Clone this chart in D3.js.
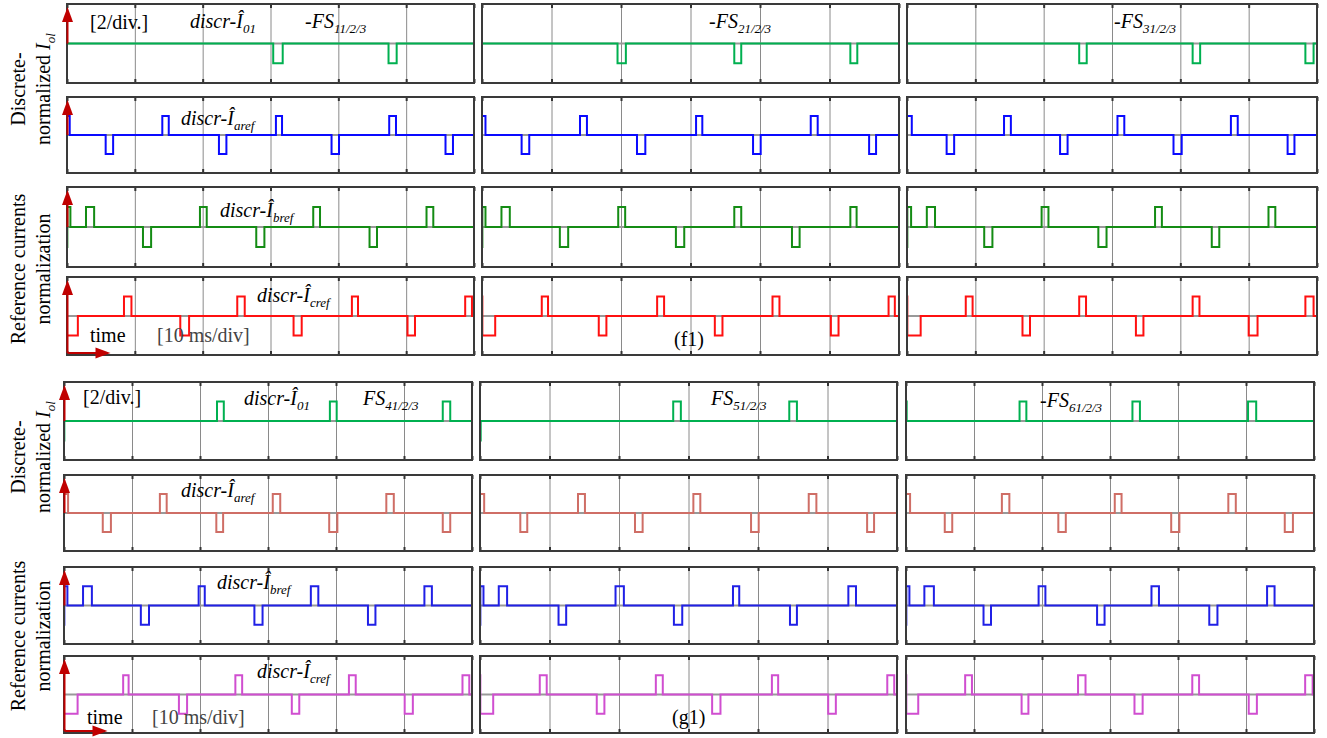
<!DOCTYPE html>
<html>
<head>
<meta charset="utf-8">
<script src="https://cdnjs.cloudflare.com/ajax/libs/d3/7.8.5/d3.min.js"></script>
<style>
body { margin: 0; background: #fff; }
text { font-family: "Liberation Serif", "Times New Roman", serif; }
</style>
</head>
<body>
<div id="chart"></div>
<script>
const ancho = 1327
const alto = 738

// eje de tiempo: 6 div de 10 ms por panel
const tiempo = [0, 60]
const divisiones = [0, 10, 20, 30, 40, 50, 60]
const nivel = [-2, 2]

// pulsos [inicio ms, fin ms, nivel] por columna
const f1I01 = [
    [[30.4, 31.8, -1], [47.4, 48.6, -1]],
    [[19.5, 20.7, -1], [36.3, 37.3, -1], [53.0, 54.0, -1]],
    [[25.2, 26.3, -1], [41.8, 42.9, -1], [58.3, 59.5, -1]]
]
const f1Iaref = [
    [[0, 0.4, 1], [5.7, 6.8, -1], [14.05, 15.0, 1], [22.4, 23.5, -1], [30.8, 31.7, 1], [39.0, 40.1, -1], [47.5, 48.5, 1], [55.8, 56.9, -1]],
    [[0, 0.5, 1], [5.7, 6.8, -1], [14.1, 15.1, 1], [22.3, 23.5, -1], [30.8, 31.7, 1], [39.0, 40.1, -1], [47.3, 48.3, 1], [55.7, 56.7, -1]],
    [[0, 0.7, 1], [5.8, 6.9, -1], [14.2, 15.2, 1], [22.4, 23.5, -1], [30.8, 31.8, 1], [39.0, 40.2, -1], [47.4, 48.4, 1], [55.7, 56.7, -1]]
]
const f1Ibref = [
    [[0, 0.05, -1], [0.05, 0.5, 1], [2.8, 4.0, 1], [11.2, 12.4, -1], [19.6, 20.6, 1], [27.9, 29.1, -1], [36.3, 37.3, 1], [44.6, 45.7, -1], [53.0, 54.0, 1]],
    [[0, 0.05, -1], [0.05, 0.5, 1], [2.8, 4.0, 1], [11.2, 12.4, -1], [19.6, 20.6, 1], [27.9, 29.1, -1], [36.3, 37.3, 1], [44.6, 45.7, -1], [53.0, 53.9, 1]],
    [[0, 0.05, -1], [0.05, 0.6, 1], [2.9, 4.1, 1], [11.3, 12.5, -1], [19.7, 20.7, 1], [28.0, 29.2, -1], [36.3, 37.3, 1], [44.6, 45.7, -1], [52.9, 53.9, 1]]
]
const f1Icref = [
    [[0, 1.6, -1], [8.4, 9.5, 1], [16.7, 18.0, -1], [25.1, 26.2, 1], [33.4, 34.6, -1], [42.0, 42.9, 1], [50.2, 51.3, -1], [58.7, 59.7, 1]],
    [[0, 0.05, 1], [0.05, 1.9, -1], [8.6, 9.5, 1], [16.8, 17.9, -1], [25.2, 26.2, 1], [33.5, 34.6, -1], [41.8, 42.8, 1], [50.2, 51.3, -1], [58.5, 59.4, 1]],
    [[0, 0.05, 1], [0.05, 2.0, -1], [8.6, 9.6, 1], [16.9, 18.0, -1], [25.2, 26.2, 1], [33.5, 34.6, -1], [41.8, 42.8, 1], [50.0, 51.3, -1], [58.3, 59.5, 1]]
]
const g1I01 = [
    [[0, 0.05, -1], [22.5, 23.5, 1], [39.1, 40.1, 1], [55.7, 56.8, 1]],
    [[0, 0.1, -1], [27.8, 28.9, 1], [44.5, 45.6, 1]],
    [[0, 0.1, 1], [16.7, 17.7, 1], [33.3, 34.4, 1], [50.3, 51.5, 1]]
]
const g1Iaref = [
    [[0, 0.6, 1], [5.7, 6.9, -1], [14.1, 15.1, 1], [22.4, 23.4, -1], [30.7, 31.8, 1], [39.0, 40.2, -1], [47.4, 48.5, 1], [55.7, 56.8, -1]],
    [[0, 0.6, 1], [5.8, 6.8, -1], [14.1, 15.1, 1], [22.3, 23.4, -1], [30.7, 31.7, 1], [39.0, 40.1, -1], [47.3, 48.4, 1], [55.7, 56.7, -1]],
    [[0, 0.6, 1], [5.7, 6.8, -1], [14.1, 15.2, 1], [22.4, 23.5, -1], [30.7, 31.7, 1], [39.0, 40.2, -1], [47.4, 48.5, 1], [55.7, 56.9, -1]]
]
const g1Ibref = [
    [[0, 0.05, -1], [0.05, 0.5, 1], [2.8, 4.1, 1], [11.3, 12.5, -1], [19.8, 20.7, 1], [28.0, 29.2, -1], [36.3, 37.4, 1], [44.7, 45.8, -1], [53.0, 54.1, 1]],
    [[0, 0.05, -1], [0.05, 0.5, 1], [2.7, 3.9, 1], [11.3, 12.4, -1], [19.5, 20.7, 1], [27.9, 29.1, -1], [36.4, 37.3, 1], [44.6, 45.6, -1], [53.0, 54.1, 1]],
    [[0, 0.05, -1], [0.05, 0.5, 1], [2.7, 4.1, 1], [11.4, 12.5, -1], [19.5, 20.5, 1], [28.1, 29.2, -1], [36.1, 37.2, 1], [44.6, 45.8, -1], [53.1, 54.2, 1]]
]
const g1Icref = [
    [[0, 2.0, -1], [8.7, 9.5, 1], [16.9, 18.1, -1], [25.2, 26.2, 1], [33.5, 34.6, -1], [41.9, 42.9, 1], [50.1, 51.3, -1], [58.6, 59.6, 1]],
    [[0, 0.05, 1], [0.05, 1.9, -1], [8.6, 9.6, 1], [16.8, 17.9, -1], [25.3, 26.3, 1], [33.4, 34.6, -1], [42.0, 42.9, 1], [50.1, 51.2, -1], [58.6, 59.6, 1]],
    [[0, 0.05, 1], [0.05, 1.8, -1], [8.7, 9.7, 1], [17.0, 18.0, -1], [25.3, 26.4, 1], [33.6, 34.8, -1], [42.1, 43.1, 1], [50.4, 51.6, -1], [58.7, 59.8, 1]]
]

// textos
const subSenal = ["01", "aref", "bref", "cref"]
const fsF1 = [["-FS", "11/2/3"], ["-FS", "21/2/3"], ["-FS", "31/2/3"]]
const fsG1 = [["FS", "41/2/3"], ["FS", "51/2/3"], ["-FS", "61/2/3"]]
const nombresGrupo = ["(f1)", "(g1)"]

const rojo = "#c00000"

const grupos = [
    {
        nombre: nombresGrupo[0],
        senales: [f1I01, f1Iaref, f1Ibref, f1Icref],
        colores: ["#00b050", "#0a0aff", "#148c14", "#ff1010"],
        cols: [[67, 474], [482, 899], [907, 1317]],
        filas: [[4, 83], [97, 173], [187, 267], [277, 355]],
        fs: fsF1,
        fsPos: [[305, 28], [709, 28], [1114, 28]],
        divPos: [90, 29],
        senPos: [[190, 28], [181, 125], [220, 217], [257, 302]],
        timePos: [90, 342], msPos: [157, 342], nomPos: [674, 346],
        lab1: 89, lab2: 269
    },
    {
        nombre: nombresGrupo[1],
        senales: [g1I01, g1Iaref, g1Ibref, g1Icref],
        colores: ["#00b050", "#cf6e66", "#2020e6", "#d04ed0"],
        cols: [[64, 472], [480, 897], [906, 1314]],
        filas: [[382, 460], [475, 551], [567, 644], [656, 733]],
        fs: fsG1,
        fsPos: [[363, 405], [711, 405], [1040, 407]],
        divPos: [83, 404],
        senPos: [[244, 405], [181, 497], [217, 589], [257, 678]],
        timePos: [87, 724], msPos: [152, 724], nomPos: [672, 724],
        lab1: 457, lab2: 636
    }
]

const svg = d3.select("#chart").append("svg")
    .attr("width", ancho)
    .attr("height", alto)

function panel(g, xr, yr, pulsos, color) {
    const x = d3.scaleLinear().domain(tiempo).range(xr)
    const y = d3.scaleLinear().domain(nivel).range([yr[1], yr[0]])
    const alt = yr[1] - yr[0]

    // rejilla vertical
    g.append("g").attr("transform", `translate(0,${yr[1]})`)
        .call(d3.axisBottom(x).tickValues(divisiones.slice(1, -1)).tickSize(-alt).tickFormat(""))
        .call(s => s.select(".domain").remove())
        .selectAll("line").attr("stroke", "#8a8a8a").attr("stroke-width", 1)
    // marcas arriba y abajo
    g.append("g").attr("transform", `translate(0,${yr[1]})`)
        .call(d3.axisBottom(x).tickValues(divisiones).tickSize(-4).tickFormat(""))
        .call(s => s.select(".domain").remove())
        .selectAll("line").attr("stroke", "#333").attr("stroke-width", 2)
    g.append("g").attr("transform", `translate(0,${yr[0]})`)
        .call(d3.axisTop(x).tickValues(divisiones).tickSize(-4).tickFormat(""))
        .call(s => s.select(".domain").remove())
        .selectAll("line").attr("stroke", "#333").attr("stroke-width", 2)
    // linea de cero
    g.append("line")
        .attr("x1", x(tiempo[0])).attr("x2", x(tiempo[1]))
        .attr("y1", y(0)).attr("y2", y(0))
        .attr("stroke", "#999").attr("stroke-width", 2)

    const pts = [[tiempo[0], 0]]
    pulsos.forEach(([s, e, l]) => { pts.push([s, 0], [s, l], [e, l], [e, 0]) })
    pts.push([tiempo[1], 0])
    g.append("path")
        .attr("d", d3.line().x(d => x(d[0])).y(d => y(d[1]))(pts))
        .attr("fill", "none")
        .attr("stroke", color)
        .attr("stroke-width", 2)

    g.append("rect")
        .attr("x", xr[0]).attr("y", yr[0])
        .attr("width", xr[1] - xr[0]).attr("height", alt)
        .attr("fill", "none").attr("stroke", "#3a3a3a").attr("stroke-width", 2)
    return y
}

function etiqueta(g, pos, base, sub, italica, size) {
    const t = g.append("text").attr("x", pos[0]).attr("y", pos[1])
        .attr("font-size", size || 20)
        .attr("font-style", italica ? "italic" : "normal")
    t.append("tspan").text(base)
    if (sub) t.append("tspan").text(sub).attr("font-size", 13).attr("dy", 5)
    return t
}

function flechaArriba(g, x, yDesde, yPunta) {
    g.append("line").attr("x1", x).attr("x2", x).attr("y1", yDesde).attr("y2", yPunta + 12)
        .attr("stroke", rojo).attr("stroke-width", 2)
    g.append("path").attr("d", `M${x - 5.5},${yPunta + 15}L${x + 5.5},${yPunta + 15}L${x},${yPunta}Z`)
        .attr("fill", rojo)
}

grupos.forEach(gr => {
    const grupo = svg.append("g")
    gr.senales.forEach((senal, fi) => {
        senal.forEach((pulsos, ci) => {
            const y = panel(grupo, gr.cols[ci], gr.filas[fi], pulsos, gr.colores[fi])
            if (ci === 0) {
                const xa = gr.cols[0][0] + 0.5
                const tip = gr.filas[fi][0] + 3
                if (fi < 3) {
                    flechaArriba(grupo, xa, y(0), tip)
                } else {
                    const yb = gr.filas[fi][1] - 2
                    flechaArriba(grupo, xa, yb, tip)
                    const xt = xa + 43
                    grupo.append("line").attr("x1", xa).attr("x2", xt - 12).attr("y1", yb).attr("y2", yb)
                        .attr("stroke", rojo).attr("stroke-width", 2)
                    grupo.append("path").attr("d", `M${xt - 15},${yb - 5.5}L${xt - 15},${yb + 5.5}L${xt},${yb}Z`)
                        .attr("fill", rojo)
                }
            }
        })
    })

    // textos
    etiqueta(grupo, gr.divPos, "[2/div.]", null, false)
    gr.senPos.forEach((p, i) => etiqueta(grupo, p, "discr-Î", subSenal[i], true))
    gr.fs.forEach((f, i) => etiqueta(grupo, gr.fsPos[i], f[0], f[1], true))
    etiqueta(grupo, gr.timePos, "time", null, false)
    etiqueta(grupo, gr.msPos, "[10 ms/div]", null, false).attr("fill", "#444")
    etiqueta(grupo, gr.nomPos, gr.nombre, null, false)

    // etiquetas de eje rotadas
    const rot = (x, yc, nodo) => grupo.append("text")
        .attr("transform", `translate(${x},${yc}) rotate(-90)`)
        .attr("text-anchor", "middle").attr("font-size", 20)
    rot(25, gr.lab1).text("Discrete-")
    const n = rot(50, gr.lab1)
    n.append("tspan").text("normalized ")
    n.append("tspan").text("I").attr("font-style", "italic")
    n.append("tspan").text("ol").attr("font-style", "italic").attr("font-size", 13).attr("dy", 5)
    rot(25, gr.lab2).text("Reference currents")
    rot(50, gr.lab2).text("normalization")
})
</script>
</body>
</html>
